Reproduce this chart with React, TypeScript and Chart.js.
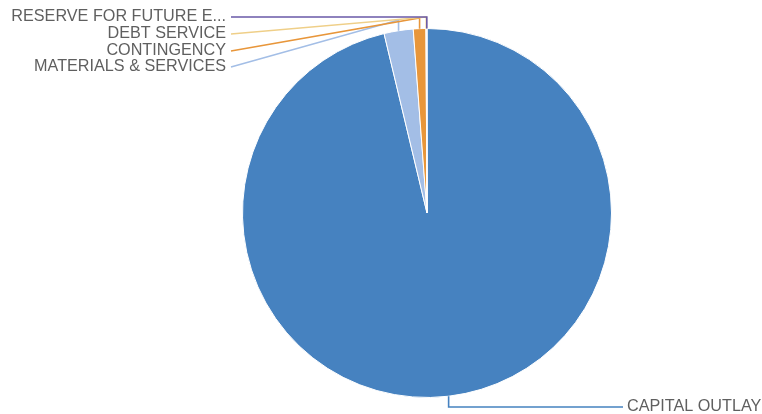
import React, { useEffect, useRef } from "react";
import { Chart, registerables } from "chart.js";

Chart.register(...registerables);

const categories = [
  "CAPITAL OUTLAY",
  "MATERIALS & SERVICES",
  "CONTINGENCY",
  "DEBT SERVICE",
  "RESERVE FOR FUTURE E...",
];
const values = [96.3, 2.55, 1.1, 0.06, 0.03];
const colors = ["#4682C0", "#A3BEE6", "#E8963A", "#EFCF88", "#6A5AA8"];

const labelPlugin = {
  id: "leaderLabels",
  afterDatasetsDraw(chart: any) {
    const ctx = chart.ctx;
    const meta = chart.getDatasetMeta(0);
    ctx.save();
    ctx.font = "16.2px 'Liberation Sans', Arial, sans-serif";
    ctx.fillStyle = "#5f5f5f";
    ctx.lineWidth = 1.6;
    const leftLabelY: Record<number, number> = { 4: 17, 3: 34, 2: 51, 1: 67 };
    const elbowY: Record<number, number> = { 4: 17, 3: 17, 2: 18, 1: 20 };
    const lineEndX = 231;
    meta.data.forEach((arc: any, i: number) => {
      const { x, y, startAngle, endAngle, outerRadius } = arc.getProps(
        ["x", "y", "startAngle", "endAngle", "outerRadius"],
        true
      );
      const mid = (startAngle + endAngle) / 2;
      const px = x + Math.cos(mid) * outerRadius;
      const py = y + Math.sin(mid) * outerRadius;
      ctx.strokeStyle = colors[i];
      if (i === 0) {
        const ly = 407;
        ctx.beginPath();
        ctx.moveTo(px, py);
        ctx.lineTo(px, ly);
        ctx.lineTo(623, ly);
        ctx.stroke();
        ctx.textAlign = "left";
        ctx.textBaseline = "middle";
        ctx.fillText(categories[i], 627, ly);
      } else {
        const ly = leftLabelY[i];
        const ey = elbowY[i];
        ctx.beginPath();
        ctx.moveTo(px, py);
        ctx.lineTo(px, ey);
        ctx.lineTo(lineEndX, ly);
        ctx.stroke();
        ctx.textAlign = "right";
        ctx.textBaseline = "middle";
        ctx.fillText(categories[i], 226, ly);
      }
    });
    ctx.restore();
  },
};

export default function App() {
  const ref = useRef<HTMLCanvasElement>(null);
  useEffect(() => {
    if (!ref.current) return;
    const chart = new Chart(ref.current, {
      type: "pie",
      data: {
        labels: categories,
        datasets: [
          {
            data: values,
            backgroundColor: colors,
            borderColor: "#ffffff",
            borderWidth: 1,
          },
        ],
      },
      options: {
        animation: false,
        responsive: false,
        maintainAspectRatio: false,
        layout: { padding: { left: 242, right: 150, top: 28, bottom: 16 } },
        plugins: {
          legend: { display: false },
          tooltip: { enabled: false },
        },
      },
      plugins: [labelPlugin],
    });
    return () => chart.destroy();
  }, []);
  return (
    <div style={{ position: "fixed", left: 0, top: 0, width: 762, height: 414, background: "#fff" }}>
      <canvas ref={ref} width={762} height={414} style={{ width: 762, height: 414 }} />
    </div>
  );
}
